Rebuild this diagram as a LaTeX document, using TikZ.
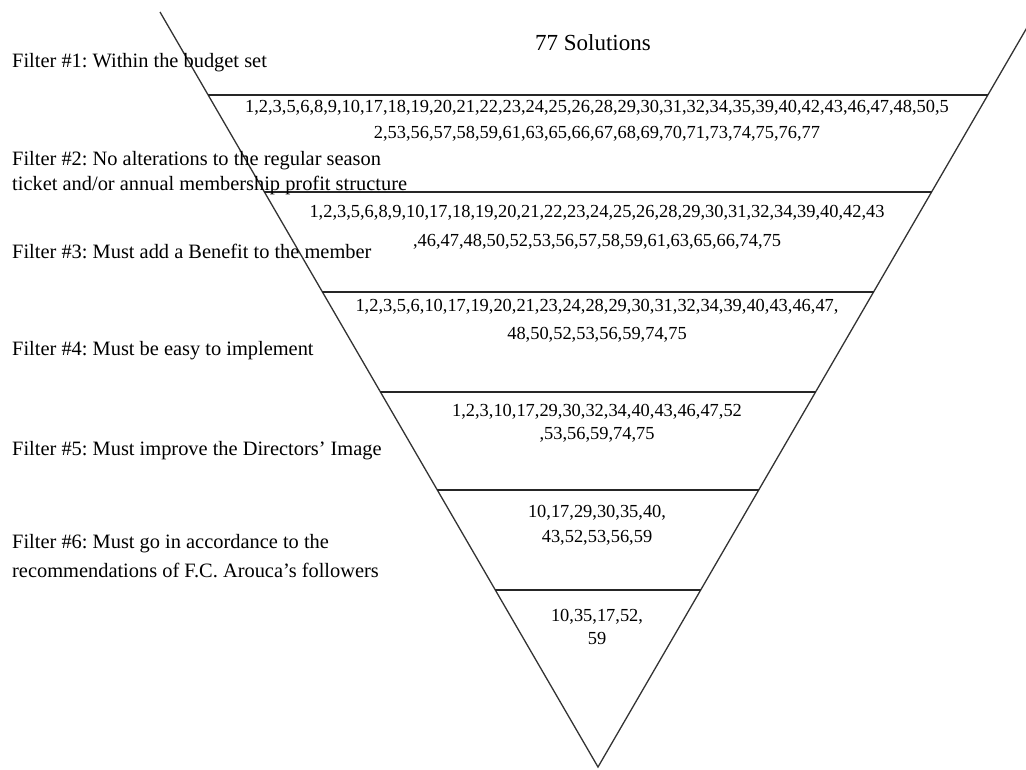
\documentclass[tikz,border=0pt]{standalone}
\usepackage{fontspec}
\setmainfont{Liberation Serif}
\usetikzlibrary{calc}
\frenchspacing
\begin{document}
\begin{tikzpicture}[x=1pt,y=-1pt,
  funnel/.style={line width=1.3pt, draw=black!80},
  sepline/.style={line width=1.4pt, draw=black!85},
  lbl/.style={anchor=west, inner sep=0pt, text height=0.7em, text depth=0pt, font=\fontsize{20.4}{24}\selectfont},
  nums/.style={anchor=center, inner sep=0pt, text height=0.7em, text depth=0pt, font=\fontsize{18.4}{22}\selectfont},
  ttl/.style={anchor=center, inner sep=0pt, text height=0.7em, text depth=0pt, font=\fontsize{23}{27}\selectfont}]
\useasboundingbox (0,0) rectangle (1026,769);
\clip (0,0) rectangle (1026,769);
% funnel outline
\coordinate (apex) at (598,767);
\coordinate (TL) at (160,12);
\coordinate (TR) at (1036,12);
\draw[funnel] (TL) -- (apex) -- (TR);
% separating lines
\foreach \yy/\n in {95/1,192/2,292/3,392/4,490/5,590/6}{
  \coordinate (L\n) at ($(apex)!{(767-\yy)/755}!(TL)$);
  \coordinate (R\n) at ($(apex)!{(767-\yy)/755}!(TR)$);
  \draw[sepline] (L\n) -- (R\n);
}
% title
\node[ttl] (title) at (593,47) {77 Solutions};
% filter labels
\node[lbl] (f1) at (12,64) {Filter \#1: Within the budget set};
\node[lbl] (f2a) at (12,162) {Filter \#2: No alterations to the regular season};
\node[lbl] (f2b) at (12,187) {ticket and/or annual membership profit structure};
\node[lbl] (f3) at (12,255) {Filter \#3: Must add a Benefit to the member};
\node[lbl] (f4) at (12,352) {Filter \#4: Must be easy to implement};
\node[lbl] (f5) at (12,452) {Filter \#5: Must improve the Directors’ Image};
\node[lbl] (f6a) at (12,545) {Filter \#6: Must go in accordance to the};
\node[lbl] (f6b) at (12,574) {recommendations of F.C. Arouca’s followers};
% solution numbers
\node[nums] (s1a) at (597,109) {1,2,3,5,6,8,9,10,17,18,19,20,21,22,23,24,25,26,28,29,30,31,32,34,35,39,40,42,43,46,47,48,50,5};
\node[nums] (s1b) at (597,135) {2,53,56,57,58,59,61,63,65,66,67,68,69,70,71,73,74,75,76,77};
\node[nums] (s2a) at (597,214) {1,2,3,5,6,8,9,10,17,18,19,20,21,22,23,24,25,26,28,29,30,31,32,34,39,40,42,43};
\node[nums] (s2b) at (597,243) {,46,47,48,50,52,53,56,57,58,59,61,63,65,66,74,75};
\node[nums] (s3a) at (597,308) {1,2,3,5,6,10,17,19,20,21,23,24,28,29,30,31,32,34,39,40,43,46,47,};
\node[nums] (s3b) at (597,336) {48,50,52,53,56,59,74,75};
\node[nums] (s4a) at (597,413) {1,2,3,10,17,29,30,32,34,40,43,46,47,52};
\node[nums] (s4b) at (597,436) {,53,56,59,74,75};
\node[nums] (s5a) at (597,514) {10,17,29,30,35,40,};
\node[nums] (s5b) at (597,539) {43,52,53,56,59};
\node[nums] (s6a) at (597,618) {10,35,17,52,};
\node[nums] (s6b) at (597,641) {59};
\end{tikzpicture}
\end{document}
